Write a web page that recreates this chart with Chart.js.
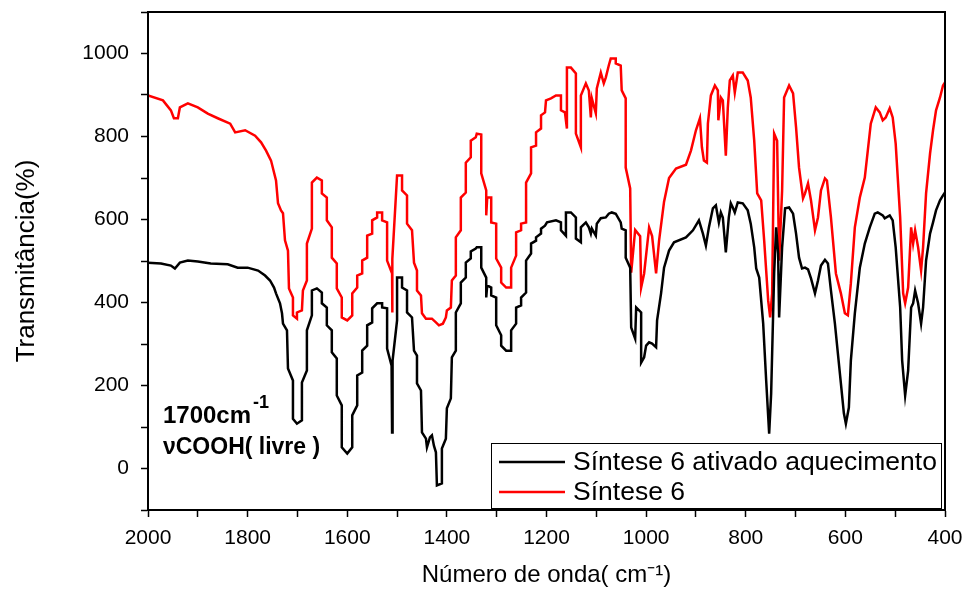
<!DOCTYPE html>
<html>
<head>
<meta charset="utf-8">
<script src="https://cdn.jsdelivr.net/npm/chart.js@4.4.0/dist/chart.umd.min.js"></script>
<style>
    html, body { margin: 0; padding: 0; background: #fff; }
</style>
</head>
<body>
<canvas id="spectrum" width="966" height="590"></canvas>
<script>
// FTIR spectra, [wavenumber (cm-1), transmittance]
const activatedPoints = [
    [2000,496],[1974,494],[1954,489],[1946,482],[1936,496],[1920,501],[1900,499],[1874,494],[1840,492],[1820,484],
    [1800,484],[1779,477],[1765,465],[1755,453],[1747,436],[1743,422],[1735,398],[1731,374],[1729,349],[1721,333],
    [1719,241],[1709,212],[1709,120],[1701,108],[1691,116],[1691,207],[1681,236],[1681,333],[1671,369],[1671,429],
    [1661,434],[1651,424],[1651,398],[1641,388],[1641,345],[1631,333],[1631,280],[1621,265],[1621,176],[1611,152],
    [1611,51],[1600,36],[1590,51],[1590,128],[1580,152],[1580,224],[1570,231],[1570,284],[1560,296],[1560,345],
    [1550,352],[1550,386],[1540,398],[1530,398],[1530,388],[1520,386],[1520,289],[1511,248],[1510,87],[1509,260],
    [1500,357],[1500,460],[1490,460],[1490,436],[1480,429],[1480,376],[1470,364],[1466,284],[1460,272],[1460,205],
    [1452,188],[1450,87],[1442,72],[1440,51],[1434,75],[1430,80],[1426,55],[1422,39],[1420,-41],[1410,-36],
    [1410,48],[1402,72],[1400,145],[1392,169],[1390,268],[1382,284],[1382,376],[1372,398],[1372,448],[1362,460],
    [1362,496],[1352,506],[1352,523],[1342,530],[1340,533],[1331,533],[1331,484],[1321,460],[1321,412],[1319,441],
    [1311,436],[1311,417],[1301,412],[1301,345],[1291,321],[1291,296],[1281,284],[1271,284],[1271,333],[1261,349],
    [1261,388],[1251,393],[1251,412],[1241,424],[1241,501],[1231,518],[1231,542],[1221,549],[1221,557],[1211,566],
    [1211,578],[1203,585],[1199,593],[1181,598],[1171,593],[1171,574],[1161,561],[1161,617],[1151,617],[1141,605],
    [1141,554],[1131,545],[1131,581],[1121,593],[1115,581],[1111,566],[1109,578],[1101,561],[1099,590],[1091,603],
    [1081,605],[1075,614],[1069,617],[1061,614],[1051,593],[1049,578],[1041,574],[1041,508],[1032,484],[1030,340],
    [1022,313],[1020,388],[1010,376],[1010,255],[1004,268],[1000,296],[994,304],[988,301],[980,292],[978,357],
    [970,422],[964,484],[954,525],[944,545],[920,557],[906,574],[894,598],[886,566],[880,537],[874,581],
    [866,627],[860,634],[854,593],[850,617],[846,605],[840,521],[834,605],[830,639],[826,629],[822,617],
    [816,641],[806,639],[796,622],[790,590],[783,533],[779,482],[773,460],[765,349],[759,212],[753,84],
    [749,181],[743,470],[739,581],[735,518],[733,364],[727,533],[721,627],[713,629],[705,614],[699,566],
    [693,508],[687,482],[681,484],[675,480],[669,458],[661,422],[655,453],[649,489],[641,503],[635,494],
    [629,429],[621,349],[615,277],[609,205],[603,133],[599,108],[593,147],[589,260],[581,374],[571,484],
    [561,542],[551,581],[541,614],[535,617],[525,610],[521,603],[511,610],[505,598],[499,533],[490,388],
    [486,260],[480,176],[474,236],[468,388],[464,398],[460,429],[454,398],[448,349],[444,388],[438,501],
    [430,566],[424,593],[418,622],[410,646],[404,658],[400,665]
];

const synthesisPoints = [
    [2000,899],[1970,887],[1954,863],[1948,844],[1940,844],[1936,870],[1920,880],[1900,870],[1880,855],[1860,844],
    [1835,831],[1825,810],[1805,815],[1785,802],[1773,786],[1763,766],[1753,742],[1743,694],[1739,639],[1733,622],
    [1729,615],[1725,550],[1719,525],[1717,434],[1709,412],[1709,369],[1701,361],[1701,376],[1691,381],[1689,429],
    [1681,453],[1681,542],[1671,578],[1671,689],[1661,701],[1651,694],[1651,663],[1641,653],[1641,598],[1631,581],
    [1631,508],[1621,494],[1621,434],[1611,412],[1611,364],[1600,357],[1590,369],[1590,422],[1580,436],[1580,465],
    [1570,470],[1570,501],[1560,508],[1560,561],[1550,566],[1550,598],[1540,605],[1540,617],[1530,617],[1530,598],
    [1520,593],[1520,501],[1510,470],[1510,376],[1509,505],[1500,706],[1490,706],[1490,670],[1480,658],[1480,590],
    [1470,574],[1466,496],[1460,477],[1460,429],[1452,417],[1450,374],[1442,361],[1430,361],[1422,352],[1416,345],
    [1408,349],[1402,364],[1400,381],[1392,388],[1390,453],[1382,465],[1382,557],[1372,574],[1372,653],[1362,665],
    [1362,737],[1352,750],[1352,790],[1342,798],[1340,807],[1331,805],[1331,711],[1321,670],[1321,610],[1319,653],
    [1311,653],[1311,593],[1301,590],[1301,506],[1291,484],[1291,448],[1281,436],[1271,436],[1271,484],[1261,513],
    [1261,569],[1251,574],[1251,590],[1241,593],[1241,689],[1231,711],[1231,774],[1221,778],[1221,810],[1211,819],
    [1211,851],[1203,858],[1201,887],[1191,892],[1181,899],[1171,899],[1171,863],[1163,858],[1159,819],[1159,966],
    [1151,966],[1141,952],[1141,807],[1131,774],[1131,899],[1121,928],[1115,911],[1111,846],[1109,892],[1101,856],
    [1099,916],[1091,954],[1085,928],[1081,942],[1075,971],[1071,988],[1061,988],[1061,976],[1051,971],[1049,911],
    [1041,892],[1041,725],[1032,675],[1030,472],[1022,575],[1012,560],[1010,436],[1004,470],[994,581],[988,560],
    [980,470],[974,549],[964,643],[954,700],[940,723],[920,732],[910,766],[900,815],[892,844],[888,774],
    [884,742],[878,737],[876,831],[870,899],[862,923],[856,911],[855,839],[850,894],[846,887],[840,754],
    [836,870],[832,935],[826,947],[822,906],[816,954],[806,954],[796,935],[790,894],[783,790],[777,663],
    [769,646],[763,549],[755,405],[751,364],[747,422],[743,807],[737,790],[733,501],[727,670],[723,894],
    [713,923],[705,904],[699,822],[693,725],[685,651],[681,663],[675,687],[669,646],[661,574],[655,605],
    [649,670],[641,699],[637,694],[629,605],[619,470],[609,422],[601,374],[595,369],[589,446],[581,581],
    [571,653],[561,701],[555,766],[549,831],[539,870],[531,858],[525,839],[519,846],[511,868],[505,846],
    [499,783],[490,605],[484,422],[480,398],[474,436],[468,581],[464,542],[460,574],[454,533],[448,477],
    [444,533],[438,663],[430,759],[424,815],[418,863],[410,894],[404,923],[400,930]
];

const seriesLabels = ['Síntese 6 ativado aquecimento', 'Síntese 6'];
const xTickLabels = [2000, 1800, 1600, 1400, 1200, 1000, 800, 600, 400];
const yTickLabels = [0, 200, 400, 600, 800, 1000];
const noteAnchor = [1970, 110];   // where the 1700 cm-1 note sits (data units)

const FONT = '"Liberation Sans", Arial, sans-serif';

function toXY(points) {
    return points.map(p => ({ x: p[0], y: p[1] }));
}

// full box round the plot (top and right sides have no axis)
const frameBox = {
    id: 'frameBox',
    afterDraw(chart) {
        const { ctx, chartArea } = chart;
        ctx.save();
        ctx.strokeStyle = '#000';
        ctx.lineWidth = 2;
        ctx.strokeRect(chartArea.left, chartArea.top, chartArea.right - chartArea.left, chartArea.bottom - chartArea.top);
        ctx.restore();
    }
};

const legendBox = {
    id: 'legendBox',
    afterDraw(chart) {
        const { ctx, chartArea } = chart;
        const right = chartArea.right - 4;
        const bottom = chartArea.bottom - 2;
        const left = right - 450;
        const top = bottom - 65;
        ctx.save();
        ctx.fillStyle = '#fff';
        ctx.fillRect(left, top, right - left, bottom - top);
        ctx.strokeStyle = '#000';
        ctx.lineWidth = 1;
        ctx.strokeRect(left + 0.5, top + 0.5, right - left, bottom - top);
        chart.data.datasets.forEach((ds, i) => {
            const y = top + 19 + i * 30;
            ctx.strokeStyle = ds.borderColor;
            ctx.lineWidth = 2.5;
            ctx.beginPath();
            ctx.moveTo(left + 8, y);
            ctx.lineTo(left + 74, y);
            ctx.stroke();
            ctx.fillStyle = '#000';
            ctx.font = '26.5px ' + FONT;
            ctx.textBaseline = 'middle';
            ctx.fillText(ds.label, left + 82, y + 1);
        });
        ctx.restore();
    }
};

const peakNote = {
    id: 'peakNote',
    afterDatasetsDraw(chart) {
        const { ctx, scales } = chart;
        const px = scales.x.getPixelForValue(noteAnchor[0]);
        const py = scales.y.getPixelForValue(noteAnchor[1]);
        ctx.save();
        ctx.fillStyle = '#000';
        ctx.textBaseline = 'alphabetic';
        ctx.font = 'bold 24px ' + FONT;
        ctx.fillText('1700cm', px, py);
        const w = ctx.measureText('1700cm').width;
        ctx.font = 'bold 18px ' + FONT;
        ctx.fillText('-1', px + w + 2, py - 15);
        ctx.font = 'bold 23px ' + FONT;
        ctx.fillText('νCOOH( livre )', px, py + 31);
        ctx.restore();
    }
};

new Chart(document.getElementById('spectrum'), {
    type: 'line',
    data: {
        datasets: [{
            label: seriesLabels[0],
            data: toXY(activatedPoints),
            borderColor: '#000000',
            backgroundColor: '#000000',
            borderWidth: 2.5,
            pointRadius: 0,
            tension: 0,
        }, {
            label: seriesLabels[1],
            data: toXY(synthesisPoints),
            borderColor: '#ff0000',
            backgroundColor: '#ff0000',
            borderWidth: 2.5,
            pointRadius: 0,
            tension: 0,
        }]
    },
    options: {
        responsive: false,
        animation: false,
        layout: {
            padding: { top: 12, right: 21, bottom: 0, left: 0 }
        },
        plugins: {
            legend: { display: false },
            tooltip: { enabled: false }
        },
        scales: {
            x: {
                type: 'linear',
                reverse: true,
                min: 400,
                max: 2000,
                ticks: {
                    stepSize: 100,
                    autoSkip: false,
                    maxRotation: 0,
                    padding: 9,
                    color: '#000',
                    font: { family: FONT, size: 21 },
                    callback: function (value) {
                        return xTickLabels.includes(value) ? String(value) : '';
                    }
                },
                grid: {
                    drawOnChartArea: false,
                    drawTicks: true,
                    tickLength: 7,
                    tickWidth: 1.5,
                    tickColor: '#000'
                },
                border: { display: true, color: '#000', width: 2 },
                title: {
                    display: true,
                    text: 'Número de onda( cm⁻¹)',
                    color: '#000',
                    font: { family: FONT, size: 24 },
                    padding: { top: 0, bottom: 0 }
                },
                afterFit: function (scale) {
                    scale.height = 80;
                    scale.paddingLeft = 0;
                    scale.paddingRight = 0;
                }
            },
            y: {
                type: 'linear',
                min: -100,
                max: 1100,
                ticks: {
                    stepSize: 100,
                    autoSkip: false,
                    padding: 12,
                    color: '#000',
                    font: { family: FONT, size: 21 },
                    callback: function (value) {
                        return yTickLabels.includes(value) ? String(value) : '';
                    }
                },
                grid: {
                    drawOnChartArea: false,
                    drawTicks: true,
                    tickLength: 7,
                    tickWidth: 1.5,
                    tickColor: '#000'
                },
                border: { display: true, color: '#000', width: 2 },
                title: {
                    display: true,
                    text: 'Transmitância(%)',
                    color: '#000',
                    font: { family: FONT, size: 26 },
                    padding: { top: 11, bottom: 0 }
                },
                afterFit: function (scale) {
                    scale.width = 148;
                    scale.paddingTop = 0;
                    scale.paddingBottom = 0;
                }
            }
        }
    },
    plugins: [peakNote, legendBox, frameBox]
});
</script>
</body>
</html>
